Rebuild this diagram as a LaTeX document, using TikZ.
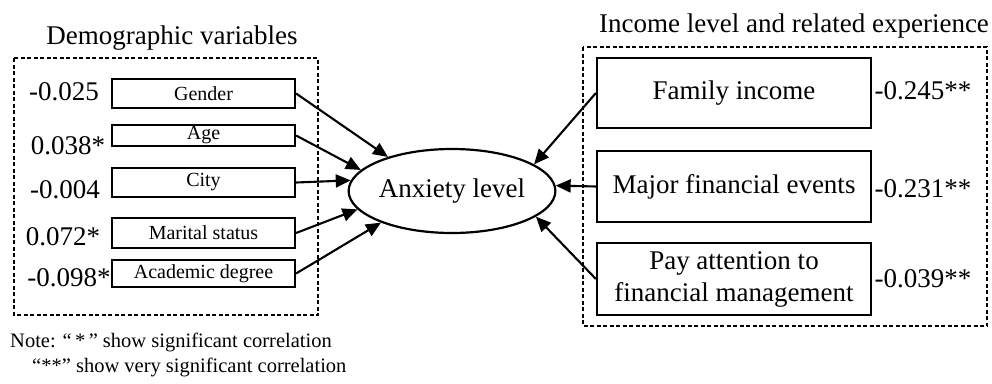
\documentclass[tikz,border=0pt]{standalone}
\usepackage{fontspec}
\setmainfont{Liberation Serif}
\usetikzlibrary{arrows.meta,shapes.geometric}
\begin{document}
\begin{tikzpicture}[x=1pt,y=-1pt,
  big/.style={font=\fontsize{27}{32}\selectfont},
  sbox/.style={draw, line width=2.2pt, minimum width=183pt, inner sep=0pt, font=\fontsize{20}{24}\selectfont},
  rbox/.style={draw, line width=2.2pt, minimum width=274pt, inner sep=0pt, align=center, big},
  frame/.style={line width=1.8pt, dash pattern=on 4pt off 2.5pt},
  coef/.style={big, anchor=base, inner sep=0pt},
  arr/.style={line width=2.1pt, -{Triangle[length=15pt,width=13pt]}},
  note/.style={font=\fontsize{20.5}{25}\selectfont, anchor=base west, inner sep=0pt}]
\useasboundingbox (0,0) rectangle (992,383);
% frames
\draw[frame] (14,58) rectangle (318,315);
\draw[frame] (583,47) rectangle (987,326);
% titles
\node[coef] (t1) at (172,44) {Demographic variables};
\node[coef] (t2) at (794,32) {Income level and related experience};
% left boxes
\node[sbox, minimum height=29pt] (gender) at (203.5,93.5) {Gender};
\node[sbox, minimum height=21pt] (age) at (203.5,135.5) {Age};
\node[sbox, minimum height=29pt] (city) at (203.5,182.5) {City};
\node[sbox, minimum height=30pt] (marital) at (203.5,233) {Marital status};
\node[sbox, minimum height=27pt] (academic) at (203.5,273.5) {Academic degree};
% left coefficients
\node[coef] (c1) at (64,100) {-0.025};
\node[coef] (c2) at (68,154) {0.038*};
\node[coef] (c3) at (65,198) {-0.004};
\node[coef] (c4) at (63,245) {0.072*};
\node[coef] (c5) at (69,286) {-0.098*};
% ellipse
\node[draw, ellipse, line width=2.2pt, minimum width=181pt, minimum height=84pt, inner sep=0pt, big] (anx) at (452,191) {Anxiety level};
% right boxes
\node[rbox, minimum height=70pt] (family) at (734,93) {Family income};
\node[rbox, minimum height=71pt] (major) at (734,186.5) {Major financial events};
\node[rbox, minimum height=72pt] (pay) at (734,279) {Pay attention to\\financial management};
% right coefficients
\node[coef] (r1) at (923,99) {-0.245**};
\node[coef] (r2) at (923,197) {-0.231**};
\node[coef] (r3) at (923,287) {-0.039**};
% arrows
\draw[arr] (gender.east) -- (anx.152);
\draw[arr] (age.east) -- (anx.167);
\draw[arr] (city.east) -- (anx.174.5);
\draw[arr] (marital.east) -- (anx.191);
\draw[arr] (academic.east) -- (anx.204);
\draw[arr] (family.west) -- (anx.18);
\draw[arr] (major.west) -- (anx.3);
\draw[arr] (pay.west) -- (anx.-17);
% note
\node[note] (n1) at (10,347) {Note: “\,*\,” show significant correlation};
\node[note] (n2) at (32,372) {“**” show very significant correlation};
\end{tikzpicture}
\end{document}
